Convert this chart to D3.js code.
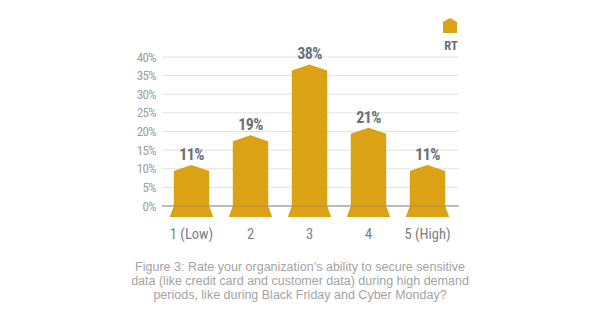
<!DOCTYPE html>
<html><head><meta charset="utf-8">
<script src="https://cdn.jsdelivr.net/npm/d3@7"></script>
<style>html,body{margin:0;padding:0;background:#fff;}</style>
</head><body>
<svg id="c" width="600" height="318"></svg>
<script>
const categories = ["1 (Low)", "2", "3", "4", "5 (High)"];
const values = [11, 19, 38, 21, 11];
const yTicks = [0, 5, 10, 15, 20, 25, 30, 35, 40];
const seriesName = "RT";
const caption = [
  "Figure 3: Rate your organization’s ability to secure sensitive",
  "data (like credit card and customer data) during high demand",
  "periods, like during Black Friday and Cyber Monday?"
];

const svg = d3.select("#c");
const gold = "#dca215";
const x = d3.scaleBand().domain(categories).range([162, 457]).paddingInner(0.4).paddingOuter(0.2);
const y = d3.scaleLinear().domain([0, 40]).range([206, 57]);
const cond = "'Roboto Condensed', 'Liberation Sans Narrow', 'Roboto', sans-serif";

// grid
svg.append("g").selectAll("line").data(yTicks).join("line")
  .attr("x1", 162).attr("x2", 459)
  .attr("y1", d => y(d)).attr("y2", d => y(d))
  .attr("stroke", d => d === 0 ? "#a8a8a8" : "#e2e2e2")
  .attr("stroke-width", d => d === 0 ? 1.2 : 1);

// y labels
svg.append("g").selectAll("text").data(yTicks).join("text")
  .attr("x", 156).attr("y", d => y(d) + 4.5)
  .attr("text-anchor", "end")
  .attr("font-family", cond)
  .attr("font-size", 13).attr("fill", "#9aa0a6")
  .attr("letter-spacing", "-0.6")
  .text(d => d + "%");

// bars with peaked tops and flared base
const peak = 6, flare = 4, base = 11;
svg.append("g").selectAll("path").data(values).join("path")
  .attr("fill", gold)
  .attr("d", (d, i) => {
    const x0 = x(categories[i]), w = x.bandwidth(), x1 = x0 + w, cx = x0 + w / 2;
    const yt = y(d), y0 = y(0);
    return `M${x0},${y0} L${x0},${yt + peak} L${cx},${yt} L${x1},${yt + peak} L${x1},${y0} L${x1 + flare},${y0 + base} L${x0 - flare},${y0 + base} Z`;
  });

svg.append("line").attr("x1", 162).attr("x2", 459).attr("y1", y(0)).attr("y2", y(0))
  .attr("stroke", "#8a8a8a").attr("stroke-opacity", 0.6).attr("stroke-width", 1);

// value labels
svg.append("g").selectAll("text").data(values).join("text")
  .attr("x", (d, i) => x(categories[i]) + x.bandwidth() / 2)
  .attr("y", d => y(d) - 5)
  .attr("text-anchor", "middle")
  .attr("font-family", cond)
  .attr("font-weight", "bold").attr("font-size", 16).attr("fill", "#6b7178")
  .attr("letter-spacing", "-0.6")
  .text(d => d + "%");

// x labels
svg.append("g").selectAll("text").data(categories).join("text")
  .attr("x", d => x(d) + x.bandwidth() / 2)
  .attr("y", 239)
  .attr("text-anchor", "middle")
  .attr("font-family", cond)
  .attr("font-size", 14.5).attr("fill", "#7b7f84")
  .text(d => d);

// legend
const lx = 450, ly = 18;
svg.append("path").attr("fill", gold)
  .attr("d", `M${lx - 7},${ly + 4} L${lx},${ly} L${lx + 7},${ly + 4} L${lx + 7},${ly + 15} L${lx - 7},${ly + 15} Z`);
svg.append("text").attr("x", lx + 1).attr("y", 50).attr("text-anchor", "middle")
  .attr("font-family", cond)
  .attr("font-weight", "bold").attr("font-size", 12.5).attr("fill", "#6b6f73")
  .text(seriesName);

// caption
svg.append("g").selectAll("text").data(caption).join("text")
  .attr("x", 300).attr("y", (d, i) => 271 + i * 14)
  .attr("text-anchor", "middle")
  .attr("font-family", "'Liberation Sans', Arial, sans-serif")
  .attr("font-size", 12.5).attr("fill", "#a3a3a3")
  .text(d => d);
</script>
</body></html>
